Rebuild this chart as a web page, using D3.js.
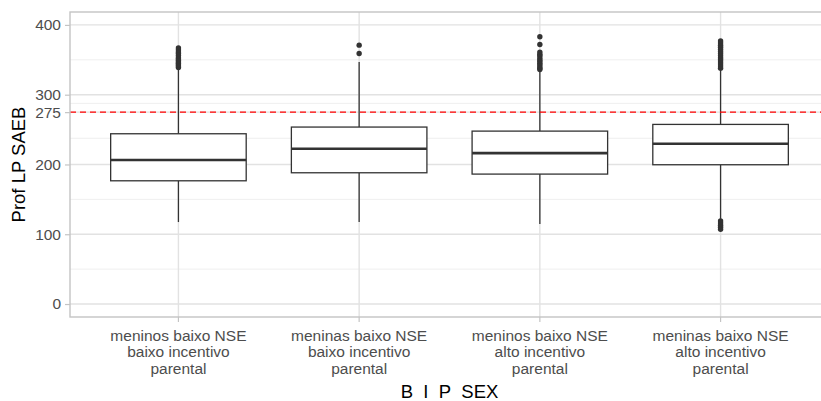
<!DOCTYPE html>
<html>
<head>
<meta charset="utf-8">
<script src="https://cdn.jsdelivr.net/npm/d3@7"></script>
<style>
  body { margin: 0; background: #fff; }
  svg { display: block; font-family: "Liberation Sans", Arial, sans-serif; }
</style>
</head>
<body>
<div id="chart"></div>
<script>
const categories = [
  "meninos baixo NSE\nbaixo incentivo\nparental",
  "meninas baixo NSE\nbaixo incentivo\nparental",
  "meninos baixo NSE\nalto incentivo\nparental",
  "meninas baixo NSE\nalto incentivo\nparental"
];
const q1 = [176.6, 188.1, 186.2, 199.6];
const medians = [206.3, 222.5, 216.3, 229.7];
const q3 = [244, 253.6, 247.8, 257.4];
const whiskerLow = [117.5, 117.5, 114.6, 122];
const whiskerHigh = [337, 347, 334, 336];
const outliers = [
  [339, 341, 343, 345, 347, 349, 351, 353, 356, 359, 361, 364, 367],
  [359, 371],
  [336, 338, 340, 343, 345, 348, 350, 353, 356, 358, 361, 372, 383],
  [338, 341, 344, 347, 350, 353, 356, 359, 362, 365, 368, 371, 374, 377, 119, 116, 113, 110, 107]
];
const yTicks = [0, 100, 200, 275, 300, 400];
const yMinor = [50, 150, 237.5, 287.5, 350];
const refLine = 275;

const width = 821;
const height = 401;
const margin = { left: 70, top: 12, right: -8, bottom: 84 };

const svg = d3.select("#chart")
  .append("svg")
  .attr("width", width)
  .attr("height", height);

const x0 = margin.left;
const x1 = width - margin.right;
const yTop = margin.top;
const yBot = height - margin.bottom;

const x = d3.scaleBand()
  .domain(categories)
  .range([x0, x1])
  .paddingOuter(0.1)
  .paddingInner(0);

const y = d3.scaleLinear()
  .domain([-18.6, 418.5])
  .range([yBot, yTop]);

const boxW = x.bandwidth() * 0.75;

// grid
const grid = svg.append("g");
grid.selectAll(".minor")
  .data(yMinor)
  .enter().append("line")
  .attr("x1", x0).attr("x2", x1)
  .attr("y1", d => y(d)).attr("y2", d => y(d))
  .attr("stroke", "#ebebeb").attr("stroke-width", 0.8);
grid.selectAll(".major")
  .data(yTicks)
  .enter().append("line")
  .attr("x1", x0).attr("x2", x1)
  .attr("y1", d => y(d)).attr("y2", d => y(d))
  .attr("stroke", "#e2e2e2").attr("stroke-width", 1.4);
grid.selectAll(".vmajor")
  .data(categories)
  .enter().append("line")
  .attr("x1", d => x(d) + x.bandwidth() / 2).attr("x2", d => x(d) + x.bandwidth() / 2)
  .attr("y1", yTop).attr("y2", yBot)
  .attr("stroke", "#e2e2e2").attr("stroke-width", 1.4);

// boxes
const boxes = svg.selectAll(".box")
  .data(categories)
  .enter().append("g")
  .attr("transform", d => `translate(${x(d) + x.bandwidth() / 2},0)`);

boxes.append("line")
  .attr("y1", (d, i) => y(whiskerHigh[i]))
  .attr("y2", (d, i) => y(q3[i]))
  .attr("stroke", "#333").attr("stroke-width", 1.3);
boxes.append("line")
  .attr("y1", (d, i) => y(q1[i]))
  .attr("y2", (d, i) => y(whiskerLow[i]))
  .attr("stroke", "#333").attr("stroke-width", 1.3);
boxes.append("rect")
  .attr("x", -boxW / 2)
  .attr("width", boxW)
  .attr("y", (d, i) => y(q3[i]))
  .attr("height", (d, i) => y(q1[i]) - y(q3[i]))
  .attr("fill", "#fff")
  .attr("stroke", "#333").attr("stroke-width", 1.3);
boxes.append("line")
  .attr("x1", -boxW / 2).attr("x2", boxW / 2)
  .attr("y1", (d, i) => y(medians[i]))
  .attr("y2", (d, i) => y(medians[i]))
  .attr("stroke", "#333").attr("stroke-width", 2.6);
boxes.each(function(d, i) {
  d3.select(this).selectAll("circle")
    .data(outliers[i])
    .enter().append("circle")
    .attr("cx", 0)
    .attr("cy", v => y(v))
    .attr("r", 2.7)
    .attr("fill", "#333");
});

// reference line
svg.append("line")
  .attr("x1", x0).attr("x2", x1)
  .attr("y1", y(refLine)).attr("y2", y(refLine))
  .attr("stroke", "#ff0000").attr("stroke-width", 1.3)
  .attr("stroke-dasharray", "6,4");

// panel border
svg.append("rect")
  .attr("x", x0).attr("y", yTop)
  .attr("width", x1 - x0).attr("height", yBot - yTop)
  .attr("fill", "none")
  .attr("stroke", "#c4c4c4").attr("stroke-width", 1.4);

// y axis
const yAxis = svg.append("g")
  .attr("transform", `translate(${x0},0)`)
  .call(d3.axisLeft(y).tickValues(yTicks).tickSize(5).tickPadding(4));
yAxis.select(".domain").remove();
yAxis.selectAll(".tick line").attr("stroke", "#c4c4c4").attr("stroke-width", 1.2);
yAxis.selectAll(".tick text")
  .attr("fill", "#4d4d4d").style("font-size", "15.5px")
  .style("font-family", "'Liberation Sans', Arial, sans-serif");

// x axis
const xAxis = svg.append("g")
  .attr("transform", `translate(0,${yBot})`)
  .call(d3.axisBottom(x).tickSize(5).tickFormat(""));
xAxis.select(".domain").remove();
xAxis.selectAll(".tick line").attr("stroke", "#c4c4c4").attr("stroke-width", 1.2);
xAxis.selectAll(".tick").each(function(d) {
  const t = d3.select(this).append("text")
    .attr("fill", "#4d4d4d")
    .attr("text-anchor", "middle")
    .style("font-size", "15.5px");
  d.split("\n").forEach((line, k) => {
    t.append("tspan").attr("x", 0).attr("y", 23.5 + k * 16.8).text(line);
  });
});

// axis titles
svg.append("text")
  .attr("x", (x0 + x1) / 2)
  .attr("y", 398)
  .attr("text-anchor", "middle")
  .style("font-size", "18.5px")
  .attr("fill", "#000")
  .text("B_I_P_SEX");

svg.append("text")
  .attr("transform", `translate(25,${(yTop + yBot) / 2}) rotate(-90)`)
  .attr("text-anchor", "middle")
  .style("font-size", "18.5px")
  .attr("fill", "#000")
  .text("Prof LP SAEB");
</script>
</body>
</html>
